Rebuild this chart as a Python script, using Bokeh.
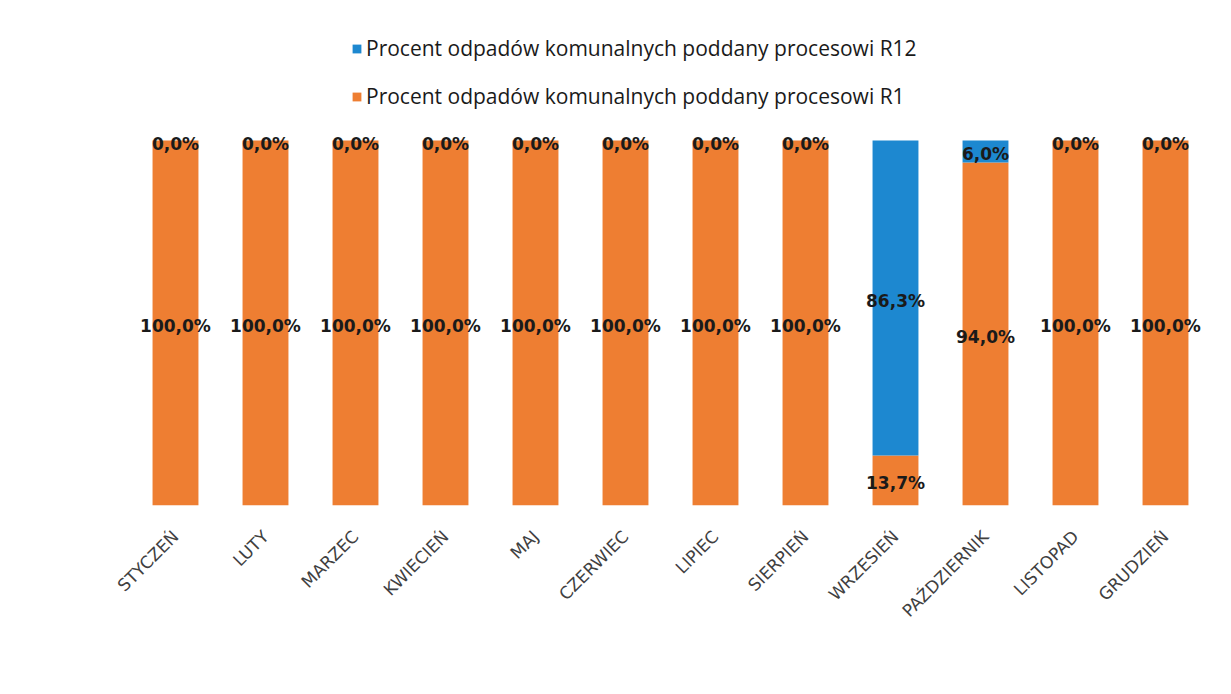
import math
from bokeh.plotting import figure
from bokeh.models import ColumnDataSource, Range1d, Legend, LegendItem
from bokeh.core.properties import value
from bokeh.embed import file_html
from bokeh.resources import INLINE

months = ["STYCZEŃ", "LUTY", "MARZEC", "KWIECIEŃ", "MAJ", "CZERWIEC",
          "LIPIEC", "SIERPIEŃ", "WRZESIEŃ", "PAŹDZIERNIK", "LISTOPAD", "GRUDZIEŃ"]
r1 = [100.0, 100.0, 100.0, 100.0, 100.0, 100.0, 100.0, 100.0, 13.7, 94.0, 100.0, 100.0]
r12 = [0.0, 0.0, 0.0, 0.0, 0.0, 0.0, 0.0, 0.0, 86.3, 6.0, 0.0, 0.0]
legend_labels = ["Procent odpadów komunalnych poddany procesowi R12",
                 "Procent odpadów komunalnych poddany procesowi R1"]

BLUE = "#1D88D0"
ORANGE = "#EE7E32"

def fmt(v):
    return ("%.1f%%" % v).replace(".", ",")

src = ColumnDataSource(dict(
    m=months,
    r1=[v / 100 for v in r1],
    r12=[v / 100 for v in r12],
))

p = figure(x_range=months, y_range=Range1d(0, 485 / 365), width=1231, height=694,
           output_backend="svg", toolbar_location=None,
           min_border_left=130, min_border_right=21, min_border_top=20,
           min_border_bottom=189)
p.outline_line_color = None
p.background_fill_color = "#FFFFFF"
p.border_fill_color = "#FFFFFF"
p.xgrid.grid_line_color = None
p.ygrid.grid_line_color = None
p.yaxis.visible = False

rs = p.vbar_stack(["r1", "r12"], x="m", width=0.51, source=src,
                  color=[ORANGE, BLUE], line_color=None)

# data labels
lab_x = months + months
lab_y = [v / 200 for v in r1] + [
    (a + b / 2) / 100 if b > 0 else 1.0 for a, b in zip(r1, r12)]
lab_t = [fmt(v) for v in r1] + [fmt(v) for v in r12]
p.text(x=lab_x, y=lab_y, text=lab_t, text_align="center", text_baseline="middle",
       y_offset=3,
       text_font=value("DejaVu Sans"), text_font_style="bold",
       text_font_size="17px", text_color="#1A1A1A")

ax = p.xaxis[0]
ax.axis_line_color = None
ax.major_tick_line_color = None
ax.minor_tick_line_color = None
ax.major_label_orientation = math.pi / 4
ax.major_label_text_font = "DejaVu Sans"
ax.major_label_text_font_size = "17px"
ax.major_label_text_color = "#404040"
ax.major_label_standoff = 22

legend = Legend(items=[LegendItem(label=legend_labels[0], renderers=[rs[1]]),
                       LegendItem(label=legend_labels[1], renderers=[rs[0]])],
                location=(221, 395), orientation="vertical")
legend.border_line_color = None
legend.background_fill_alpha = 0
legend.padding = 0
legend.margin = 0
legend.spacing = 20
legend.label_height = 20
legend.glyph_height = 11
legend.glyph_width = 11
legend.label_standoff = 4
legend.label_text_font = "Open Sans"
legend.label_text_font_size = "21px"
legend.label_text_color = "#1A1A1A"
p.add_layout(legend, "center")

open("out.html", "w").write(file_html(p, INLINE))
